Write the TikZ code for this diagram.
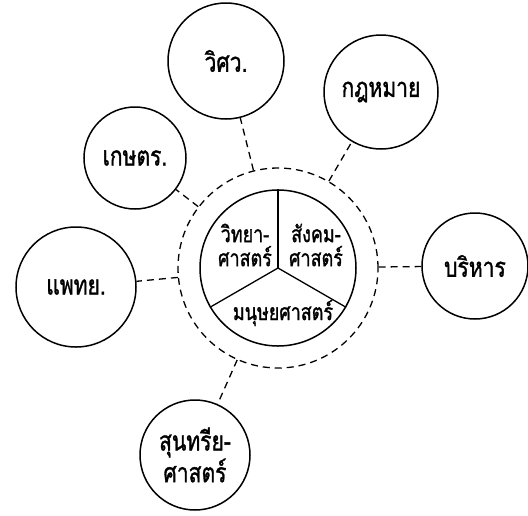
\documentclass[tikz,border=0pt]{standalone}
\usepackage{fontspec}
\newfontfamily\thai[Script=Thai,FakeStretch=0.78,FakeBold=1.2]{Loma}
\begin{document}
\begin{tikzpicture}[x=1pt,y=-1pt,
  sat/.style={circle,draw,line width=1.5pt,minimum size=#1,inner sep=0pt},
  link/.style={line width=1.3pt,dash pattern=on 7pt off 5pt},
  lbl/.style={font=\thai\fontsize{27}{28}\selectfont,align=center},
  ilbl/.style={font=\thai\fontsize{23}{24}\selectfont,align=center}]
\useasboundingbox (0,0) rectangle (528,515);
% hub
\node[circle,draw,link,minimum size=200pt,inner sep=0pt] (hub) at (278,268) {};
\node[circle,draw,line width=1.5pt,minimum size=156pt,inner sep=0pt] (core) at (278,268) {};
\draw[line width=1.3pt] (core.center) -- (core.90);
\draw[line width=1.3pt] (core.center) -- (core.210);
\draw[line width=1.3pt] (core.center) -- (core.330);
\node[ilbl] (sci) at (245,245) {วิทยา-\\ศาสตร์};
\node[ilbl] (soc) at (316,245) {สังคม-\\ศาสตร์};
\node[ilbl] (hum) at (283,313) {มนุษยศาสตร์};
% satellites
\node[sat=116pt,lbl] (eng) at (226,61) {วิศว.};
\node[sat=114pt,lbl] (law) at (381,92) {กฎหมาย};
\node[sat=102pt,lbl] (agr) at (135,158) {เกษตร.};
\node[sat=120pt,lbl] (med) at (76,287) {แพทย.};
\node[sat=106pt,lbl] (adm) at (475,266) {บริหาร};
\node[sat=110pt,lbl] (aes) at (195,455) {สุนทรีย-\\ศาสตร์};
% connectors
\foreach \n in {eng,law,agr,med,adm,aes}
  \draw[link] (hub) -- (\n);
\end{tikzpicture}
\end{document}
